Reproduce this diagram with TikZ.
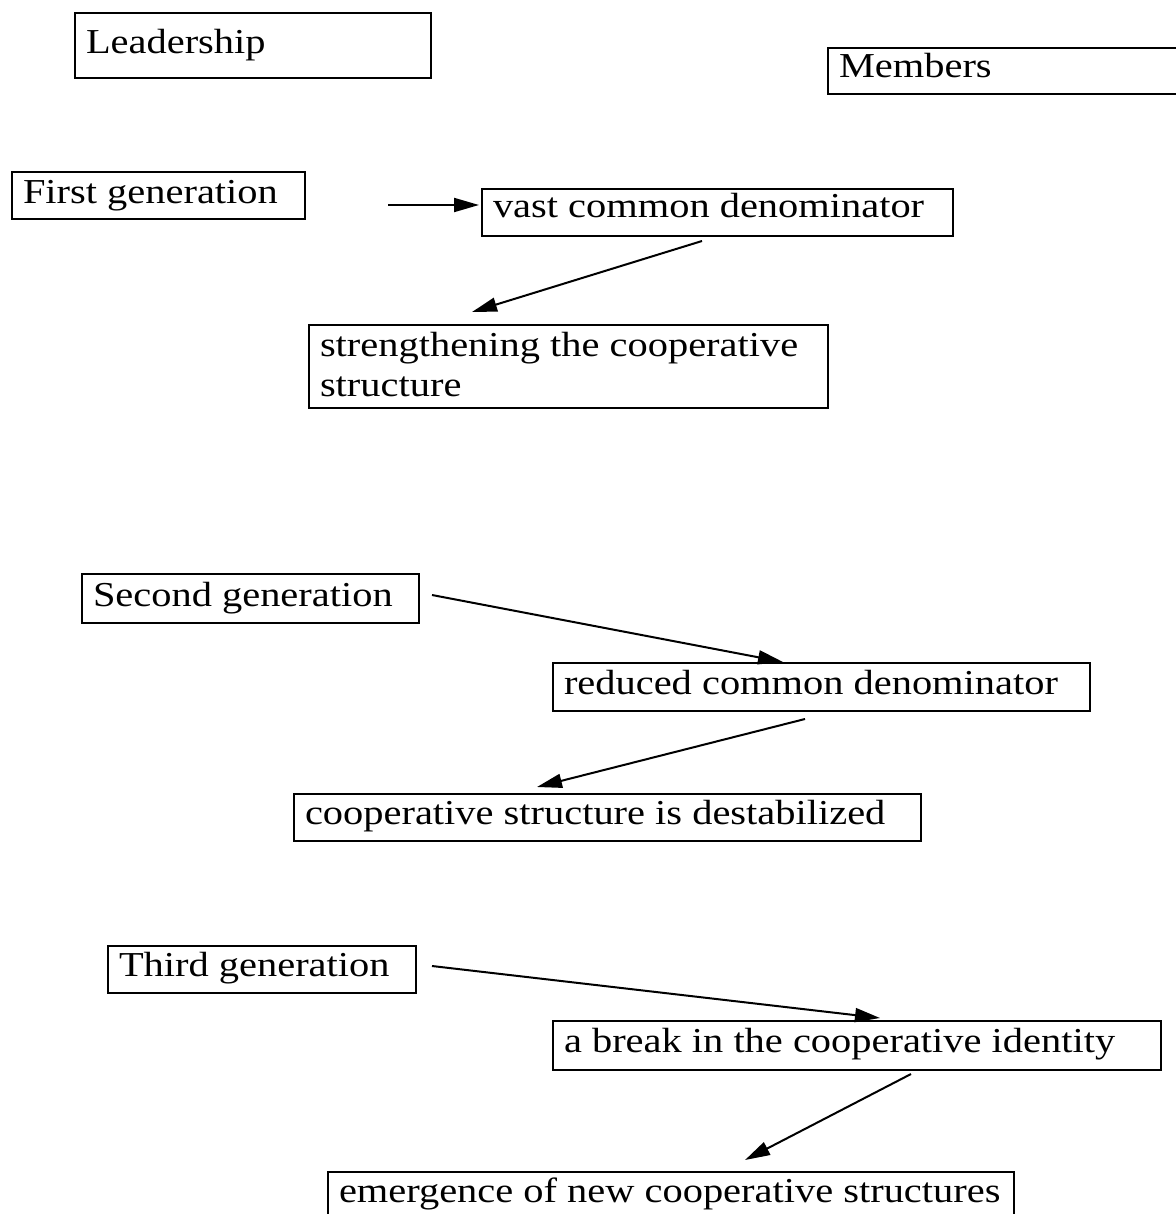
\documentclass[tikz,border=0pt]{standalone}
\usepackage{fontspec}
\setmainfont[FakeStretch=1.155]{Liberation Serif}
\usetikzlibrary{arrows.meta}

% fixed-width, left-aligned box content
\newcommand{\boxtext}[2]{\makebox[#1][l]{#2}}

\tikzset{
  box/.style={draw, line width=1pt, anchor=north west,
    inner xsep=5.5pt, inner ysep=0pt,
    font=\fontsize{17.5}{20}\selectfont},
  tb/.style 2 args={text height=#1, text depth=#2},
  arr/.style={line width=1pt, -{Triangle[length=12.5pt,width=7pt]}}
}

\begin{document}
\begin{tikzpicture}[x=0.5pt, y=-0.5pt]
  \path[use as bounding box, clip] (0,0) rectangle (1176,1214);

  % column headings
  \node[box, tb={20.5pt}{12pt}] (lead) at (74,12) {\boxtext{167pt}{Leadership}};
  \node[box, tb={15pt}{8pt}] (memb) at (827,47) {\boxtext{172pt}{Members}};

  % first generation
  \node[box, tb={16pt}{7.5pt}] (gen1) at (11,171) {\boxtext{135.5pt}{First generation}};
  \node[box, tb={14.5pt}{9pt}] (vast) at (481,188) {\boxtext{224.5pt}{vast common denominator}};
  \node[box, tb={15.5pt}{26pt}] (strength) at (308,324)
    {\parbox[t]{248.5pt}{\raggedright strengthening the cooperative\\structure}};

  % second generation
  \node[box, tb={16pt}{8.5pt}] (gen2) at (81,573) {\boxtext{157.5pt}{Second generation}};
  \node[box, tb={15.5pt}{8.5pt}] (reduced) at (552,662) {\boxtext{257.5pt}{reduced common denominator}};
  \node[box, tb={15pt}{8.5pt}] (destab) at (293,793) {\boxtext{302.5pt}{cooperative structure is destabilized}};

  % third generation
  \node[box, tb={15pt}{8.5pt}] (gen3) at (107,945) {\boxtext{143pt}{Third generation}};
  \node[box, tb={15.5pt}{9pt}] (break) at (552,1020) {\boxtext{293pt}{a break in the cooperative identity}};
  \node[box, tb={15pt}{8.5pt}] (emerg) at (327,1171) {\boxtext{332pt}{emergence of new cooperative structures}};

  % connectors
  \coordinate (lead-in) at (388,205);
  \draw[arr] (lead-in) -- ([shift={(-2,17)}]vast.north west);
  \draw[arr] ([shift={(221,4)}]vast.south west) -- ([shift={(164,-12)}]strength.north west);

  \draw[arr] ([shift={(12,22)}]gen2.north east) -- ([shift={(231,0)}]reduced.north west);
  \draw[arr] ([shift={(253,7)}]reduced.south west) -- ([shift={(244,-6)}]destab.north west);

  \draw[arr] ([shift={(15,21)}]gen3.north east) -- ([shift={(328,-2)}]break.north west);
  \draw[arr] ([shift={(359,3)}]break.south west) -- ([shift={(418,-11)}]emerg.north west);
\end{tikzpicture}
\end{document}
